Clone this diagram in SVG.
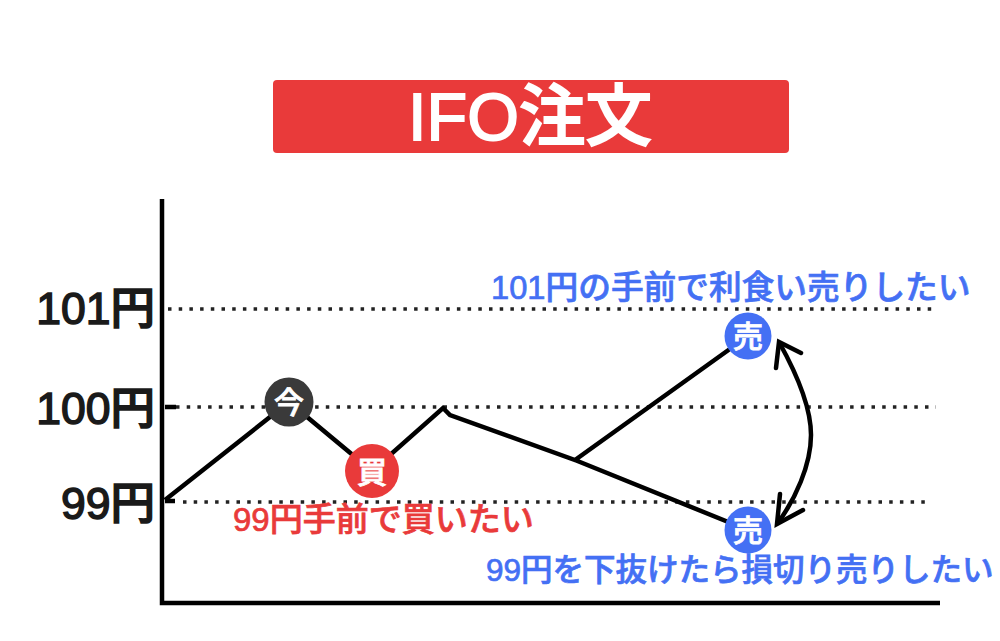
<svg xmlns="http://www.w3.org/2000/svg" width="1000" height="641" viewBox="0 0 1000 641">
<defs><style>
text{font-family:"Liberation Sans","Noto Sans CJK JP",sans-serif;font-weight:500}
.ax{font-size:44.5px;fill:#1a1a1a;stroke:#1a1a1a;stroke-width:1.5;text-anchor:end}
.grid{stroke:#222;stroke-width:3.5;stroke-dasharray:3.5 7.2;fill:none}
.ln{stroke:#000;stroke-width:4.5;fill:none}
.b{fill:#4470f4;stroke:#4470f4;stroke-width:.7;font-size:32.7px}
.r{fill:#e93a3a;stroke:#e93a3a;stroke-width:.7;font-size:33px}
.c{fill:#fff;stroke:#fff;stroke-width:.8;font-size:30px;text-anchor:middle}
</style></defs>
<rect width="1000" height="641" fill="#fff"/>
<g id="title"><rect x="273" y="80" width="516" height="73" rx="4" fill="#e93a3a"/><text x="530" y="140" text-anchor="middle" font-size="66.5" fill="#fff" stroke="#fff" stroke-width="1.8">IFO注文</text></g>
<g id="connectors">
<path class="grid" d="M168 309H932M176 407H936M183 502H932"/>
<path class="ln" d="M162 199V603H940"/>
<path class="ln" d="M165 407H176M165 501H175"/>
<path class="ln" d="M165 500L289 402L372 471L443 408L450 415L575 460L748 336M575 460L748 530"/>
<path class="ln" d="M779 342C798 376 811 410 811 435C811 465 795 500 777 524"/>
<path class="ln" stroke-linecap="round" d="M801 353L779 342L776 368M780 494L777 524L803 510"/>
</g>
<g id="label-101"><text class="ax" x="155" y="324">101円</text></g>
<g id="label-100"><text class="ax" x="155" y="424">100円</text></g>
<g id="label-99"><text class="ax" x="155" y="519">99円</text></g>
<g id="now"><circle cx="289" cy="402" r="24.5" fill="#3a3a3a"/><text class="c" x="289" y="413">今</text></g>
<g id="buy"><circle cx="372" cy="471" r="27" fill="#e93a3a"/><text class="c" x="372" y="483">買</text></g>
<g id="sell-top"><circle cx="748" cy="336" r="23.5" fill="#4470f4"/><text class="c" x="748" y="347">売</text></g>
<g id="sell-bottom"><circle cx="748" cy="530" r="23.5" fill="#4470f4"/><text class="c" x="748" y="541">売</text></g>
<g id="note-top"><text class="b" x="491" y="299">101円の手前で利食い売りしたい</text></g>
<g id="note-buy"><text class="r" x="233" y="531">99円手前で買いたい</text></g>
<g id="note-bottom"><text class="b" x="486" y="581" style="font-size:31.5px">99円を下抜けたら損切り売りしたい</text></g>
</svg>
